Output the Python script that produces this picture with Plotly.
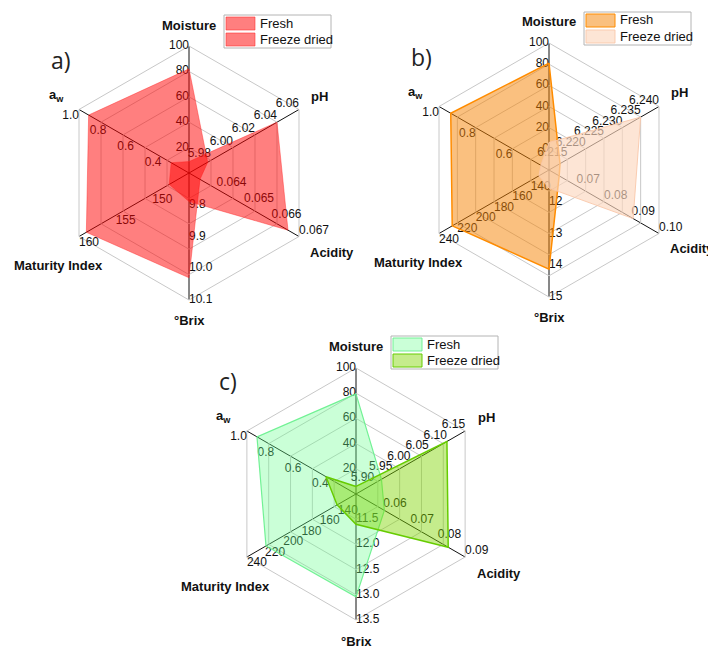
import plotly.graph_objects as go

W, H = 716, 650
PAGE_OFF = 8  # browser body margin, compensated so the drawing lands where the reference has it

# ---------------- data ----------------
axis_titles = ["Moisture", "pH", "Acidity", "°Brix", "Maturity Index", "a<sub>w</sub>"]
axis_keys = ["Moisture", "pH", "Acidity", "Brix", "Maturity", "aw"]
series_names = ["Fresh", "Freeze dried"]

# panel a
a_min = [0, 5.96, 0.063, 9.7, 145, 0.2]
a_max = [100, 6.06, 0.067, 10.1, 160, 1.0]
a_ticks = [["20", "40", "60", "80", "100"],
           ["5.98", "6.00", "6.02", "6.04", "6.06"],
           ["0.064", "0.065", "0.066", "0.067"],
           ["9.8", "9.9", "10.0", "10.1"],
           ["150", "155", "160"],
           ["0.4", "0.6", "0.8", "1.0"]]
a_fresh = [82, 5.977, 0.0634, 10.03, 159.0, 0.93]
a_dried = [9, 6.040, 0.0666, 9.79, 147.7, 0.33]
a_rings = 5

# panel b
b_min = [-20, 6.210, 0.06, 11, 120, 0.4]
b_max = [100, 6.240, 0.10, 15, 240, 1.0]
b_ticks = [["0", "20", "40", "60", "80", "100"],
           ["6.215", "6.220", "6.225", "6.230", "6.235", "6.240"],
           ["0.07", "0.08", "0.09", "0.10"],
           ["12", "13", "14", "15"],
           ["140", "160", "180", "200", "220", "240"],
           ["0.6", "0.8", "1.0"]]
b_fresh = [81, 6.213, 0.0637, 14.12, 225.6, 0.936]
b_dried = [6, 6.235, 0.0906, 11.57, 131, 0.444]
b_rings = 6

# panel c
c_min = [0, 5.85, 0.05, 11.0, 120, 0.2]
c_max = [100, 6.15, 0.09, 13.5, 240, 1.0]
c_ticks = [["20", "40", "60", "80", "100"],
           ["5.90", "5.95", "6.00", "6.05", "6.10", "6.15"],
           ["0.06", "0.07", "0.08", "0.09"],
           ["11.5", "12.0", "12.5", "13.0", "13.5"],
           ["140", "160", "180", "200", "220", "240"],
           ["0.4", "0.6", "0.8", "1.0"]]
c_fresh = [79.5, 5.92, 0.0604, 13.04, 219, 0.926]
c_dried = [6, 6.10, 0.0838, 11.6, 140.8, 0.42]
c_rings = 5

# ---------------- styles ----------------
panels = [
    dict(key="polar", label="a)", cx=189, cy=173, R=127,
         mins=a_min, maxs=a_max, ticks=a_ticks, vals=[a_fresh, a_dried], rings=a_rings,
         fills=["rgba(255,0,0,0.5)", "rgba(255,0,0,0.5)"],
         lines=["rgba(255,40,40,0.55)", "rgba(255,40,40,0.55)"], lw=[0.8, 0.8]),
    dict(key="polar2", label="b)", cx=549, cy=170, R=127,
         mins=b_min, maxs=b_max, ticks=b_ticks, vals=[b_fresh, b_dried], rings=b_rings,
         fills=["rgba(245,130,0,0.5)", "rgba(252,215,190,0.65)"],
         lines=["#ff8c00", "rgba(250,200,170,0.9)"], lw=[1.5, 1.0]),
    dict(key="polar3", label="c)", cx=356, cy=494, R=126,
         mins=c_min, maxs=c_max, ticks=c_ticks, vals=[c_fresh, c_dried], rings=c_rings,
         fills=["rgba(102,255,140,0.35)", "rgba(127,212,0,0.45)"],
         lines=["rgba(102,240,140,0.9)", "#66cc00"], lw=[1.2, 1.5]),
]

tick_pos = ["middle left", "top left", "top right", "middle right", "bottom right", "bottom left"]
title_off = [(0, -148), (130, -77), (143, 79), (0, 147), (-131, 92), (-133, -78)]
FONT = "Liberation Sans, Arial, sans-serif"


def norm(v, lo, hi):
    return (v - lo) / (hi - lo)


def px(x):
    return (x - PAGE_OFF) / W


def py(y):
    return 1 - (y - PAGE_OFF) / H


fig = go.Figure()
annotations = []
shapes = []
layout_polars = {}

for p in panels:
    sub = p["key"]
    # tick labels along each spoke
    for i, key in enumerate(axis_keys):
        tv = [float(t) for t in p["ticks"][i]]
        fig.add_trace(go.Scatterpolar(
            r=[norm(v, p["mins"][i], p["maxs"][i]) for v in tv],
            theta=[key] * len(tv), mode="text", text=p["ticks"][i],
            textposition=tick_pos[i], textfont=dict(family=FONT, size=12, color="#111"),
            cliponaxis=False, showlegend=False, hoverinfo="skip", subplot=sub))
    # data polygons
    for s, vals in enumerate(p["vals"]):
        rr = [norm(v, p["mins"][i], p["maxs"][i]) for i, v in enumerate(vals)]
        fig.add_trace(go.Scatterpolar(
            r=rr + rr[:1], theta=axis_keys + axis_keys[:1], mode="lines",
            fill="toself", fillcolor=p["fills"][s],
            line=dict(color=p["lines"][s], width=p["lw"][s]),
            name=series_names[s], showlegend=False, subplot=sub))

    cx, cy, R = p["cx"], p["cy"], p["R"]
    layout_polars[sub] = dict(
        domain=dict(x=[px(cx - R), px(cx + R)], y=[py(cy + R), py(cy - R)]),
        gridshape="linear", bgcolor="white",
        radialaxis=dict(range=[0, 1], tickvals=[k / p["rings"] for k in range(1, p["rings"] + 1)],
                        showticklabels=False, ticks="", showline=False,
                        gridcolor="#c8c8c8", gridwidth=1, layer="below traces"),
        angularaxis=dict(type="category", categoryarray=axis_keys, rotation=90,
                         direction="clockwise", showticklabels=False, ticks="",
                         gridcolor="#111", gridwidth=1.1, showline=True,
                         linecolor="#c8c8c8", linewidth=1, layer="below traces"),
    )
    # axis titles
    for i, t in enumerate(axis_titles):
        dx, dy = title_off[i]
        annotations.append(dict(text=t, x=px(cx + dx), y=py(cy + dy), xref="paper", yref="paper",
                                showarrow=False, xanchor="center", yanchor="middle",
                                font=dict(family=FONT, size=13, color="#111", weight="bold")))
    # panel label
    annotations.append(dict(text=p["label"], x=px(cx - 128), y=py(cy - 113), xref="paper", yref="paper",
                            showarrow=False, xanchor="center", yanchor="middle",
                            font=dict(family="Open Sans, sans-serif", size=23, color="#222")))
    # legend box
    shapes.append(dict(type="rect", xref="paper", yref="paper",
                       x0=px(cx + 35), x1=px(cx + 142), y0=py(cy - 125), y1=py(cy - 158),
                       line=dict(color="#b4b4b4", width=1), fillcolor="white", layer="above"))
    for s, nm in enumerate(series_names):
        shapes.append(dict(type="rect", xref="paper", yref="paper",
                           x0=px(cx + 37), x1=px(cx + 66),
                           y0=py(cy - 143 + 16 * s), y1=py(cy - 156 + 16 * s),
                           line=dict(color=p["lines"][s], width=1), fillcolor=p["fills"][s], layer="above"))
        annotations.append(dict(text=nm, x=px(cx + 69), y=py(cy - 150 + 16 * s), xref="paper", yref="paper",
                                showarrow=False, xanchor="left", yanchor="middle",
                                font=dict(family=FONT, size=13, color="#111")))

fig.update_layout(
    width=W, height=H, margin=dict(l=0, r=0, t=0, b=0),
    paper_bgcolor="white", plot_bgcolor="white", showlegend=False,
    annotations=annotations, shapes=shapes, **layout_polars)

fig.write_html("out.html")
